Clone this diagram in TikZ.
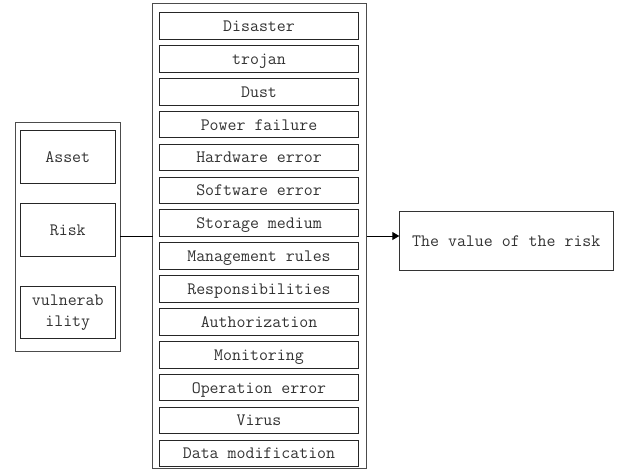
\documentclass[tikz,border=0pt]{standalone}
\usepackage{fontspec}
\usetikzlibrary{arrows.meta}
\begin{document}
\begin{tikzpicture}[x=1pt,y=-1pt,
  every node/.style={font=\ttfamily\fontsize{17.4}{19}\selectfont, text=black!80, inner sep=0pt, outer sep=0pt},
  frame/.style={draw=black!70, line width=0.9pt, rectangle},
  oneline/.style={text height=12.5pt, text depth=1.5pt},
  item/.style={draw=black!85, line width=0.9pt, rectangle, minimum width=199.4pt, minimum height=26.6pt, oneline},
  leftitem/.style={draw=black!85, line width=0.9pt, rectangle, minimum width=95.5pt, minimum height=52.7pt, align=center},
  link/.style={draw=black, line width=0.9pt}]
\useasboundingbox (0,0) rectangle (624,469);

% left group
\node[frame, minimum width=105pt, minimum height=229pt] (L) at (67.5,236.5) {};
\node[leftitem, oneline] (asset) at (67.75,157) {Asset};
\node[leftitem, oneline] (risk) at (67.75,229.7) {Risk};
\node[leftitem] (vul) at (67.75,312.5) {vulnerab\\[2pt]ility};

% middle group
\node[frame, minimum width=214pt, minimum height=464.7pt] (M) at (259.7,235.6) {};
\foreach \t [count=\i from 0] in {Disaster,trojan,Dust,Power failure,Hardware error,Software error,Storage medium,Management rules,Responsibilities,Authorization,Monitoring,Operation error,Virus,Data modification}
  \node[item] (m\i) at (259,26+\i*32.87) {\t};

% result
\node[frame, draw=black!80, minimum width=214pt, minimum height=58.3pt, oneline] (R) at (506.3,240.8) {The value of the risk};

% connectors
\draw[link] (L.east |- 0,236) coordinate (a) -- (a -| M.west);
\draw[link, -{Triangle[length=7pt,width=8pt]}] (M.east |- 0,236) coordinate (b) -- (b -| R.west);
\end{tikzpicture}
\end{document}
